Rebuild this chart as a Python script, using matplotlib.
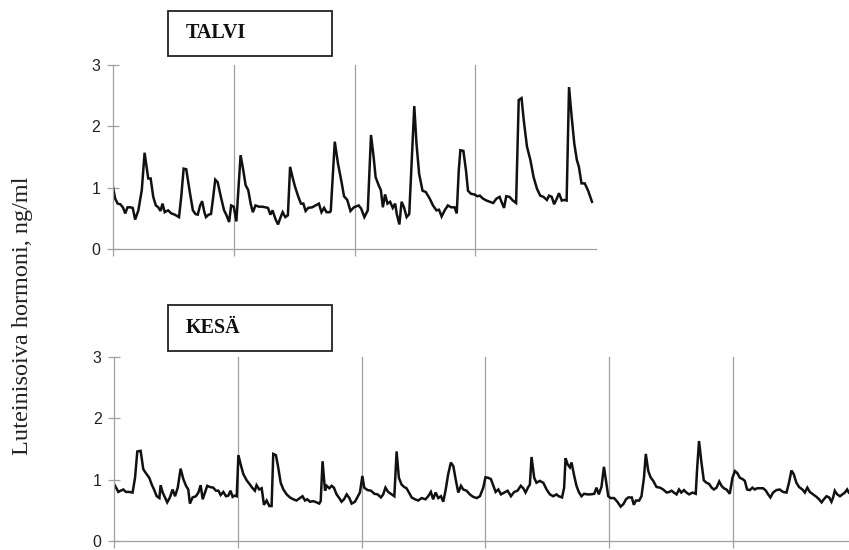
import matplotlib
matplotlib.use("Agg")
import matplotlib.pyplot as plt

# ===== data: time (h) and LH (ng/ml) =====
talvi_t = [0.00, 0.11, 0.23, 0.36, 0.49, 0.61, 0.72, 0.85, 0.98, 1.10, 1.26, 1.43, 1.57, 1.75, 1.87,
           2.00, 2.13, 2.25, 2.36, 2.46, 2.57, 2.74, 2.90, 3.07, 3.28, 3.39, 3.51, 3.64, 3.80, 3.97,
           4.10, 4.21, 4.33, 4.43, 4.54, 4.62, 4.75, 4.87, 4.98, 5.08, 5.20, 5.36, 5.52, 5.64, 5.77,
           5.87, 6.00, 6.13, 6.34, 6.46, 6.59, 6.72, 6.84, 6.95, 7.08, 7.25, 7.41, 7.57, 7.70, 7.82,
           7.93, 8.07, 8.20, 8.33, 8.43, 8.56, 8.69, 8.80, 8.92, 9.05, 9.21, 9.34, 9.46, 9.57, 9.70,
           9.90, 10.07, 10.23, 10.36, 10.49, 10.61, 10.77, 10.82, 11.02, 11.18, 11.34, 11.48, 11.64,
           11.80, 11.97, 12.21, 12.33, 12.49, 12.66, 12.82, 12.95, 13.05, 13.20, 13.31, 13.41, 13.52,
           13.64, 13.77, 13.90, 14.02, 14.10, 14.23, 14.34, 14.46, 14.59, 14.72, 14.97, 15.08, 15.21,
           15.38, 15.54, 15.74, 15.90, 16.07, 16.20, 16.33, 16.48, 16.64, 16.80, 16.97, 17.08, 17.18,
           17.26, 17.41, 17.54, 17.64, 17.79, 17.95, 18.11, 18.23, 18.39, 18.56, 18.72, 18.89, 19.05,
           19.21, 19.34, 19.43, 19.54, 19.70, 19.87, 20.03, 20.16, 20.30, 20.41, 20.57, 20.74, 20.90,
           21.07, 21.23, 21.39, 21.56, 21.67, 21.80, 21.92, 22.05, 22.16, 22.30, 22.43, 22.54, 22.66,
           22.79, 22.92, 23.05, 23.15, 23.28, 23.44, 23.61, 23.80]
talvi_lh = [1.01, 0.82, 0.74, 0.73, 0.68, 0.58, 0.68, 0.68, 0.67, 0.48, 0.63, 0.96, 1.57, 1.15, 1.15,
            0.85, 0.71, 0.68, 0.62, 0.74, 0.60, 0.63, 0.58, 0.56, 0.52, 0.85, 1.31, 1.30, 0.96, 0.63,
            0.57, 0.56, 0.71, 0.78, 0.60, 0.52, 0.56, 0.57, 0.85, 1.13, 1.09, 0.85, 0.63, 0.55, 0.44,
            0.71, 0.69, 0.45, 1.53, 1.31, 1.04, 0.96, 0.74, 0.60, 0.71, 0.69, 0.69, 0.68, 0.67, 0.56,
            0.63, 0.49, 0.40, 0.52, 0.60, 0.52, 0.55, 1.34, 1.17, 1.01, 0.85, 0.74, 0.74, 0.62, 0.67,
            0.68, 0.71, 0.74, 0.60, 0.67, 0.60, 0.60, 0.62, 1.75, 1.39, 1.12, 0.86, 0.80,
            0.62, 0.68, 0.71, 0.66, 0.52, 0.63, 1.86, 1.50, 1.17, 1.04, 0.96, 0.68, 0.89,
            0.74, 0.77, 0.67, 0.74, 0.57, 0.40, 0.77, 0.68, 0.52, 0.57, 2.33, 1.72, 1.23,
            0.95, 0.93, 0.82, 0.71, 0.63, 0.64, 0.53, 0.63, 0.71, 0.68, 0.68, 0.58, 1.28,
            1.61, 1.60, 1.28, 0.95, 0.90, 0.89, 0.86, 0.87, 0.82, 0.79, 0.77, 0.75, 0.82,
            0.85, 0.74, 0.67, 0.86, 0.85, 0.79, 0.75, 2.43, 2.46, 2.10, 1.67, 1.45, 1.17,
            0.98, 0.87, 0.85, 0.80, 0.87, 0.85, 0.73, 0.82, 0.91, 0.79, 0.80, 0.79, 2.64,
            2.16, 1.72, 1.45, 1.34, 1.07, 1.07, 0.95, 0.77]

kesa_t = [0.00, 0.10, 0.21, 0.32, 0.45, 0.58, 0.74, 0.90, 1.02, 1.13, 1.29, 1.42, 1.58, 1.71, 1.83,
          1.94, 2.07, 2.20, 2.26, 2.36, 2.47, 2.58, 2.71, 2.84, 2.96, 3.09, 3.23, 3.36, 3.49, 3.60,
          3.68, 3.81, 3.97, 4.09, 4.20, 4.30, 4.41, 4.52, 4.65, 4.81, 4.94, 5.06, 5.17, 5.30, 5.43,
          5.54, 5.65, 5.75, 5.85, 5.95, 6.03, 6.14, 6.27, 6.43, 6.59, 6.72, 6.83, 6.91, 7.04, 7.16,
          7.27, 7.40, 7.53, 7.64, 7.72, 7.85, 7.96, 8.08, 8.21, 8.37, 8.53, 8.69, 8.85, 9.01, 9.14,
          9.26, 9.37, 9.50, 9.66, 9.82, 9.95, 10.02, 10.11, 10.23, 10.31, 10.44, 10.55, 10.66, 10.79,
          10.92, 11.03, 11.15, 11.28, 11.41, 11.52, 11.68, 11.79, 11.92, 12.04, 12.13, 12.29, 12.46,
          12.62, 12.78, 12.94, 13.05, 13.16, 13.29, 13.46, 13.59, 13.70, 13.81, 13.94, 14.07, 14.18,
          14.30, 14.43, 14.59, 14.75, 14.91, 15.10, 15.23, 15.36, 15.47, 15.59, 15.72, 15.85, 15.96,
          16.07, 16.20, 16.33, 16.45, 16.56, 16.69, 16.82, 16.93, 17.09, 17.25, 17.41, 17.58, 17.74,
          17.90, 18.01, 18.14, 18.27, 18.39, 18.50, 18.63, 18.76, 18.92, 19.08, 19.24, 19.40, 19.56,
          19.72, 19.84, 19.95, 20.08, 20.16, 20.24, 20.37, 20.48, 20.64, 20.81, 20.97, 21.13, 21.29,
          21.45, 21.56, 21.72, 21.82, 21.89, 21.99, 22.10, 22.18, 22.31, 22.42, 22.53, 22.66, 22.79,
          22.95, 23.11, 23.28, 23.39, 23.50, 23.63, 23.75, 23.85, 23.96, 24.07, 24.24, 24.40, 24.56,
          24.69, 24.82, 24.93, 25.10, 25.20, 25.30, 25.46, 25.57, 25.69, 25.78, 25.90, 26.01, 26.14,
          26.30, 26.47, 26.62, 26.79, 26.92, 27.03, 27.14, 27.27, 27.39, 27.50, 27.63, 27.75, 27.88,
          28.04, 28.20, 28.27, 28.36, 28.47, 28.59, 28.72, 28.85, 28.97, 29.08, 29.21, 29.34, 29.45,
          29.56, 29.69, 29.85, 29.98, 30.10, 30.21, 30.34, 30.47, 30.58, 30.69, 30.82, 30.95, 31.06,
          31.18, 31.30, 31.47, 31.60, 31.71, 31.82, 31.95, 32.11, 32.27, 32.43, 32.60, 32.72, 32.84,
          32.95, 33.08, 33.21, 33.37, 33.49, 33.61, 33.73, 33.89, 34.05, 34.18, 34.30, 34.41, 34.54,
          34.67, 34.78, 34.86, 34.94, 35.06, 35.19, 35.31, 35.43, 35.54, 35.62]
kesa_lh = [0.93, 0.87, 0.80, 0.82, 0.84, 0.80, 0.80, 0.79, 1.03, 1.46, 1.47, 1.17, 1.09, 1.03, 0.92,
           0.84, 0.73, 0.70, 0.91, 0.79, 0.71, 0.63, 0.71, 0.84, 0.73, 0.87, 1.18, 1.01, 0.90, 0.84,
           0.61, 0.71, 0.73, 0.79, 0.91, 0.68, 0.79, 0.90, 0.88, 0.87, 0.82, 0.82, 0.75, 0.80, 0.73,
           0.74, 0.82, 0.72, 0.74, 0.73, 1.40, 1.25, 1.09, 0.99, 0.92, 0.86, 0.82, 0.91, 0.84, 0.86,
           0.59, 0.66, 0.57, 0.57, 1.42, 1.40, 1.20, 0.95, 0.84, 0.76, 0.71, 0.68, 0.66, 0.70, 0.73,
           0.66, 0.68, 0.64, 0.65, 0.63, 0.61, 0.65, 1.30, 0.82, 0.90, 0.86, 0.90, 0.87, 0.76,
           0.70, 0.64, 0.68, 0.76, 0.70, 0.61, 0.64, 0.71, 0.79, 1.06, 0.87, 0.83, 0.82,
           0.77, 0.76, 0.71, 0.76, 0.87, 0.80, 0.76, 0.73, 1.46, 1.03, 0.92, 0.88, 0.86,
           0.79, 0.71, 0.68, 0.66, 0.70, 0.68, 0.73, 0.80, 0.68, 0.79, 0.70, 0.73, 0.64,
           0.82, 1.09, 1.28, 1.22, 1.01, 0.79, 0.90, 0.84, 0.82, 0.76, 0.72, 0.70, 0.73,
           0.87, 1.04, 1.03, 1.01, 0.90, 0.80, 0.84, 0.76, 0.79, 0.82, 0.73, 0.80, 0.82,
           0.90, 0.86, 0.79, 0.88, 0.92, 1.37, 1.03, 0.95, 0.98, 0.95, 0.84, 0.76, 0.73,
           0.76, 0.73, 0.71, 0.87, 1.35, 1.25, 1.20, 1.28, 1.06, 0.90, 0.80, 0.73, 0.77,
           0.76, 0.76, 0.77, 0.87, 0.76, 0.88, 1.21, 0.98, 0.73, 0.70, 0.70, 0.64, 0.56,
           0.60, 0.68, 0.71, 0.71, 0.59, 0.66, 0.66, 0.73, 1.03, 1.42, 1.14, 1.04, 0.98,
           0.88, 0.87, 0.84, 0.79, 0.80, 0.82, 0.79, 0.76, 0.84, 0.79, 0.83, 0.79, 0.76,
           0.79, 0.77, 1.19, 1.63, 1.30, 0.99, 0.95, 0.93, 0.87, 0.84, 0.87, 0.97, 0.90,
           0.86, 0.84, 0.77, 1.03, 1.14, 1.11, 1.03, 1.01, 0.98, 0.84, 0.83, 0.87, 0.84,
           0.86, 0.86, 0.86, 0.82, 0.76, 0.71, 0.79, 0.83, 0.84, 0.80, 0.79, 0.95, 1.15,
           1.09, 0.95, 0.88, 0.84, 0.79, 0.87, 0.80, 0.76, 0.72, 0.68, 0.63, 0.68, 0.73,
           0.71, 0.64, 0.71, 0.82, 0.76, 0.73, 0.76, 0.79, 0.84, 0.79]

panels = [
    # label, t, lh, tick hours, xmax, [left, bottom, width, height], box (px)
    ("TALVI", talvi_t, talvi_lh, [0, 6, 12, 18], 24,
     [113 / 849, 1 - 249 / 550, 483 / 849, 184 / 550], (168, 11, 164, 45)),
    ("KESÄ", kesa_t, kesa_lh, [0, 6, 12, 18, 24, 30], 35.63,
     [114 / 849, 1 - 541 / 550, 735 / 849, 184 / 550], (168, 305, 164, 46)),
]

GRAY = "#a0a0a0"

fig = plt.figure(figsize=(8.49, 5.50), dpi=100)

for label, t, lh, grid, xmax, rect, box in panels:
    ax = fig.add_axes(rect)
    ax.plot(t, lh, color="#111111", lw=1.8, solid_joinstyle="miter")
    ax.set_xlim(0, xmax)
    ax.set_ylim(0, 3)
    for g in grid[1:]:
        ax.axvline(g, color=GRAY, lw=0.9, zorder=0)
    ax.set_xticks(grid)
    ax.set_xticklabels([])
    ax.tick_params(axis="x", direction="out", length=5, color=GRAY, width=0.9)
    ax.set_yticks([0, 1, 2, 3])
    ax.tick_params(axis="y", direction="inout", length=8, color=GRAY, width=0.9,
                   pad=5, labelsize=11.5, labelcolor="#222222")
    for lab in ax.get_yticklabels():
        lab.set_family("Liberation Sans")
    for side in ("top", "right"):
        ax.spines[side].set_visible(False)
    for side in ("left", "bottom"):
        ax.spines[side].set_color(GRAY)
        ax.spines[side].set_linewidth(0.9)

    # label box
    bx, by, bw, bh = box
    fig.patches.append(plt.Rectangle((bx / 849, 1 - (by + bh) / 550), bw / 849, bh / 550,
                                     transform=fig.transFigure, fill=False,
                                     edgecolor="#222222", lw=1.3))
    fig.text(186 / 849, 1 - (by + bh / 2) / 550, label, family="Liberation Serif",
             fontweight="bold", fontsize=14.5, ha="left", va="center", color="#111111")

fig.text(23 / 849, 1 - 316 / 550, "Luteinisoiva hormoni, ng/ml", family="Liberation Serif",
         fontsize=17.5, rotation=90, ha="center", va="center", color="#222222")

fig.savefig("out.png", dpi=100)
